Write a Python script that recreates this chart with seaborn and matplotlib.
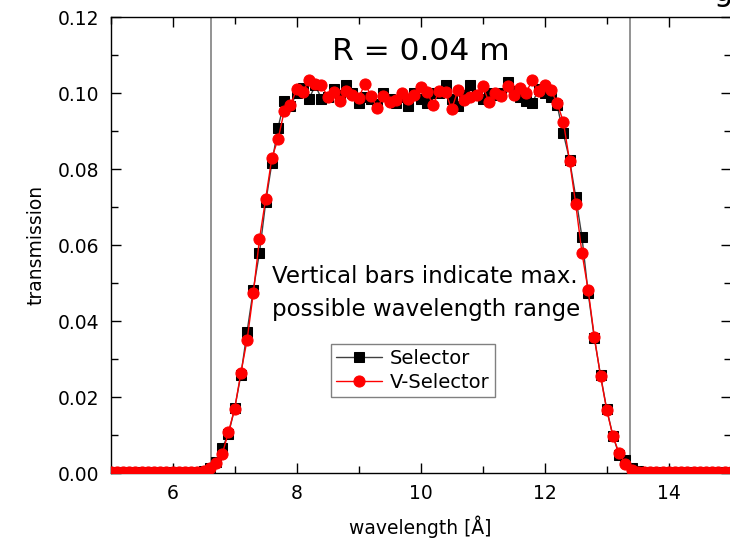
import numpy as np
import pandas as pd
import matplotlib
matplotlib.use("Agg")
import matplotlib.pyplot as plt
from matplotlib.ticker import MultipleLocator, FormatStrFormatter
import seaborn as sns

# ---- data -------------------------------------------------------------
wavelength = np.round(np.arange(5.0, 15.01, 0.1), 1)

selector = [
    0.0002, 0.0002, 0.0002, 0.0002, 0.0002, 0.0002, 0.0002,
    0.0002, 0.0002, 0.0002, 0.0002, 0.0002, 0.0002, 0.0002,
    0.0003, 0.0005, 0.0012, 0.0028, 0.0066, 0.0103, 0.0170, 0.0258,
    0.0372, 0.0482, 0.0580, 0.0712, 0.0816, 0.0909, 0.0978, 0.0966,
    0.0999, 0.1014, 0.0985, 0.1020, 0.0985, 0.0990, 0.1010, 0.0995,
    0.1020, 0.1000, 0.0975, 0.0990, 0.0985, 0.0970, 0.1000, 0.0985,
    0.0975, 0.0990, 0.0965, 0.1000, 0.0985, 0.0975, 0.1000, 0.1000,
    0.1022, 0.0985, 0.0965, 0.0995, 0.1020, 0.0995, 0.0985, 0.1000,
    0.0995, 0.1000, 0.1030, 0.1005, 0.0990, 0.0980, 0.0973, 0.1010,
    0.1000, 0.0990,
    0.0968, 0.0894, 0.0825, 0.0727, 0.0622, 0.0475, 0.0355, 0.0258,
    0.0168, 0.0098, 0.0047, 0.0034, 0.0012, 0.0004,
    0.0002, 0.0002, 0.0002, 0.0002, 0.0002, 0.0002, 0.0002, 0.0002,
    0.0002, 0.0002, 0.0002, 0.0002, 0.0002, 0.0002, 0.0002,
]

v_selector = [
    0.0002, 0.0002, 0.0002, 0.0002, 0.0002, 0.0002, 0.0002,
    0.0002, 0.0002, 0.0002, 0.0002, 0.0002, 0.0002, 0.0002,
    0.0003, 0.0006, 0.0012, 0.0027, 0.0050, 0.0108, 0.0169, 0.0264,
    0.0350, 0.0473, 0.0616, 0.0722, 0.0830, 0.0879, 0.0953, 0.0968,
    0.1010, 0.1003, 0.1034, 0.1025, 0.1021, 0.0990, 0.1003, 0.0980,
    0.1006, 0.0996, 0.0986, 0.1025, 0.0992, 0.0960, 0.0993, 0.0977,
    0.0982, 0.1001, 0.0983, 0.0995, 0.1015, 0.1003, 0.0968, 0.1006,
    0.1003, 0.0957, 0.1008, 0.0982, 0.0990, 0.0995, 0.1019, 0.0977,
    0.1001, 0.0992, 0.1019, 0.0995, 0.1012, 0.1001, 0.1034, 0.1006,
    0.1021, 0.1008,
    0.0973, 0.0925, 0.0822, 0.0708, 0.0580, 0.0482, 0.0359, 0.0255,
    0.0166, 0.0097, 0.0052, 0.0025, 0.0008, 0.0003,
    0.0002, 0.0002, 0.0002, 0.0002, 0.0002, 0.0002, 0.0002, 0.0002,
    0.0002, 0.0002, 0.0002, 0.0002, 0.0002, 0.0002, 0.0002,
]

range_limits = [6.62, 13.38]
series_names = ["Selector", "V-Selector"]

df = pd.DataFrame({"wavelength": wavelength,
                   "Selector": selector,
                   "V-Selector": v_selector})

# ---- style ------------------------------------------------------------
sns.set_style("ticks")
plt.rcParams["font.family"] = ["DejaVu Sans"]
plt.rcParams["text.color"] = "black"
plt.rcParams["axes.labelcolor"] = "black"
plt.rcParams["xtick.color"] = "black"
plt.rcParams["ytick.color"] = "black"

fig = plt.figure(figsize=(7.3, 5.45), dpi=100)
ax = fig.add_axes([0.1516, 0.1321, 0.8494, 0.8367])

for xv in range_limits:
    ax.axvline(xv, color="#808080", lw=1.2, zorder=1)

sns.lineplot(data=df, x="wavelength", y="Selector", ax=ax, color="#404040",
             lw=1.0, marker="s", markersize=6.5, markerfacecolor="black",
             markeredgecolor="black", label=series_names[0], zorder=3,
             errorbar=None, sort=False)
sns.lineplot(data=df, x="wavelength", y="V-Selector", ax=ax, color="red",
             lw=1.0, marker="o", markersize=8, markerfacecolor="red",
             markeredgecolor="red", label=series_names[1], zorder=4,
             errorbar=None, sort=False)

ax.set_xlim(5, 15)
ax.set_ylim(0, 0.12)
ax.xaxis.set_major_locator(MultipleLocator(2))
ax.xaxis.set_minor_locator(MultipleLocator(1))
ax.yaxis.set_major_locator(MultipleLocator(0.02))
ax.yaxis.set_minor_locator(MultipleLocator(0.01))
ax.yaxis.set_major_formatter(FormatStrFormatter("%.2f"))

ax.tick_params(which="both", direction="in", top=True, right=True,
               labelsize=13.5, color="black", labelcolor="black", width=1.0)
ax.tick_params(which="major", length=7, pad=8)
ax.tick_params(which="minor", length=5)
for s in ax.spines.values():
    s.set_color("black")
    s.set_linewidth(1.0)

ax.set_xlabel("wavelength [Å]", fontsize=13.5, labelpad=9)
ax.set_ylabel("transmission", fontsize=13.5, labelpad=9)

ax.text(10.0, 0.1087, "R = 0.04 m", fontsize=22.5, ha="center",
        va="baseline")
ax.text(7.6, 0.0500, "Vertical bars indicate max.", fontsize=16.5,
        ha="left", va="baseline")
ax.text(7.6, 0.0413, "possible wavelength range", fontsize=16.5,
        ha="left", va="baseline")

fig.text(0.99, 1 - 1 / 545, "g", fontsize=22, ha="center", va="baseline")

leg = ax.legend(loc="upper left", bbox_to_anchor=(0.355, 0.283),
                borderaxespad=0, fontsize=14, frameon=True, fancybox=False,
                edgecolor="#606060", handlelength=2.4, numpoints=1,
                borderpad=0.25, labelspacing=0.25, handletextpad=0.4)
leg.get_frame().set_linewidth(1.0)

fig.savefig("out.png", dpi=100)
